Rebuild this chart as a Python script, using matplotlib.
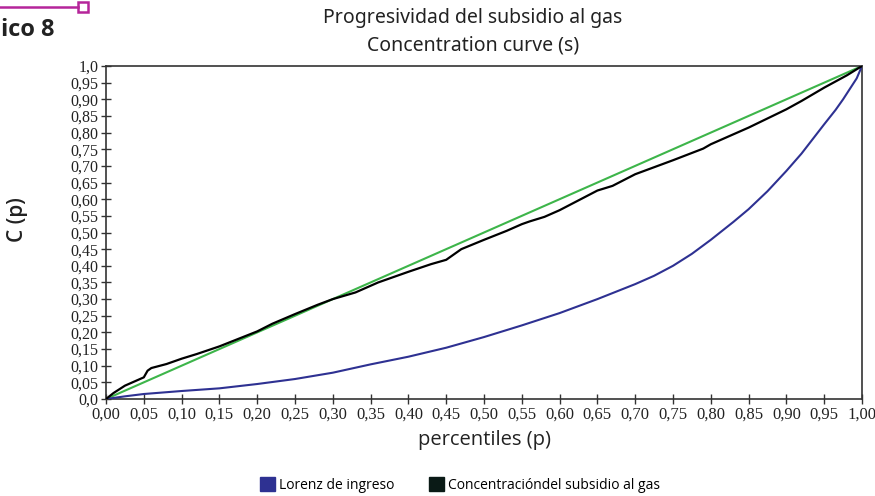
import matplotlib
matplotlib.use("Agg")
import matplotlib.pyplot as plt
from matplotlib.patches import Patch, Rectangle
from matplotlib.lines import Line2D

# Lorenz curve of income (blue)
lorenz_p = [0, 0.025, 0.05, 0.10, 0.15, 0.20, 0.25, 0.30, 0.35, 0.40, 0.45, 0.50, 0.55, 0.60,
            0.65, 0.70, 0.725, 0.75, 0.775, 0.80, 0.83, 0.85, 0.875, 0.90, 0.92, 0.95, 0.965,
            0.975, 0.985, 0.993, 1.0]
lorenz_v = [0, 0.008, 0.015, 0.024, 0.032, 0.045, 0.060, 0.079, 0.104, 0.127, 0.154, 0.186,
            0.221, 0.258, 0.300, 0.345, 0.370, 0.400, 0.436, 0.478, 0.532, 0.570, 0.624,
            0.685, 0.737, 0.825, 0.868, 0.900, 0.935, 0.963, 1.0]

# Concentration curve of the gas subsidy (black)
conc_p = [0, 0.01, 0.025, 0.04, 0.05, 0.055, 0.06, 0.08, 0.10, 0.12, 0.15, 0.17, 0.20, 0.22,
          0.25, 0.28, 0.30, 0.33, 0.36, 0.40, 0.43, 0.45, 0.47, 0.50, 0.53, 0.55, 0.56, 0.58,
          0.60, 0.65, 0.67, 0.70, 0.75, 0.79, 0.80, 0.85, 0.90, 0.92, 0.95, 0.98, 1.0]
conc_v = [0, 0.018, 0.040, 0.055, 0.065, 0.085, 0.093, 0.105, 0.121, 0.135, 0.158, 0.176,
          0.203, 0.226, 0.255, 0.283, 0.300, 0.320, 0.350, 0.382, 0.405, 0.418, 0.450, 0.478,
          0.505, 0.525, 0.533, 0.547, 0.567, 0.626, 0.640, 0.675, 0.717, 0.752, 0.765, 0.815,
          0.870, 0.895, 0.935, 0.972, 1.0]

# Equality line (green)
eq_p = [0, 1]
eq_v = [0, 1]

x_ticks = [i * 0.05 for i in range(21)]
x_labels = ["0,00", "0,05", "0,10", "0,15", "0,20", "0,25", "0,30", "0,35", "0,40", "0,45",
            "0,50", "0,55", "0,60", "0,65", "0,70", "0,75", "0,80", "0,85", "0,90", "0,95", "1,00"]
y_ticks = [i * 0.05 for i in range(21)]
y_labels = ["0,0", "0,05", "0,10", "0,15", "0,20", "0,25", "0,30", "0,35", "0,40", "0,45",
            "0,50", "0,55", "0,60", "0,65", "0,70", "0,75", "0,80", "0,85", "0,90", "0,95", "1,0"]

BLUE = "#2E3192"
GREEN = "#3DB54A"
BLACK = "#000000"
SANS = ["Open Sans", "DejaVu Sans"]
TITLE_SANS = ["Noto Sans", "DejaVu Sans"]
SERIF = ["Liberation Serif", "DejaVu Serif"]

fig = plt.figure(figsize=(8.75, 4.96), dpi=100)
ax = fig.add_axes([106 / 875, 1 - 399 / 496, (862 - 106) / 875, (399 - 66) / 496])

ax.plot(eq_p, eq_v, color=GREEN, lw=1.5, zorder=2)
ax.plot(lorenz_p, lorenz_v, color=BLUE, lw=1.5, zorder=3)
ax.plot(conc_p, conc_v, color=BLACK, lw=1.6, zorder=4)

ax.set_xlim(0, 1)
ax.set_ylim(0, 1)
ax.set_xticks(x_ticks)
ax.set_xticklabels(x_labels, family=SERIF, fontsize=12, color="#222222")
ax.set_yticks(y_ticks)
ax.set_yticklabels(y_labels, family=SERIF, fontsize=11.5, color="#222222")
ax.tick_params(direction="inout", length=7, width=1, color="#333333", pad=2)
for s in ax.spines.values():
    s.set_color("#333333")
    s.set_linewidth(1.2)

ax.set_xlabel("percentiles (p)", family=SANS, fontsize=14.5, labelpad=5, color="#222222")
fig.text(18 / 875, 1 - 220 / 496, "C (p)", family=SANS, fontsize=15, rotation=90,
         ha="center", va="center", fontweight="semibold", color="#222222")

fig.text(473 / 875, 1 - 18 / 496, "Progresividad del subsidio al gas", family=TITLE_SANS,
         fontsize=14, ha="center", va="center", color="#222222", fontweight="medium")
fig.text(473 / 875, 1 - 45 / 496, "Concentration curve (s)", family=TITLE_SANS,
         fontsize=14, ha="center", va="center", color="#222222", fontweight="medium")

# Decorative header fragment
MAG = "#B5259A"
fig.add_artist(Line2D([0, 78 / 875], [1 - 7 / 496, 1 - 7 / 496], color=MAG, lw=1.8,
                      transform=fig.transFigure))
fig.add_artist(Rectangle((78 / 875, 1 - 12 / 496), 10 / 875, 10 / 496, facecolor="white",
                         edgecolor=MAG, lw=1.8, transform=fig.transFigure))
fig.text(1 / 875, 1 - 30 / 496, "ico 8", family=SANS, fontsize=17, fontweight="bold",
         ha="left", va="center", color="#222222")

handles = [Patch(facecolor=BLUE, edgecolor=BLUE),
           Patch(facecolor="#0A1A16", edgecolor="#0A1A16")]
fig.legend(handles, ["Lorenz de ingreso", "Concentracióndel subsidio al gas"],
           loc="center", bbox_to_anchor=(460 / 875, 1 - 485 / 496), ncol=2, frameon=False,
           prop={"family": SANS, "size": 10}, handlelength=1.1, handleheight=1.1,
           handletextpad=0.3, columnspacing=2.5)

fig.savefig("out.png", dpi=100)
